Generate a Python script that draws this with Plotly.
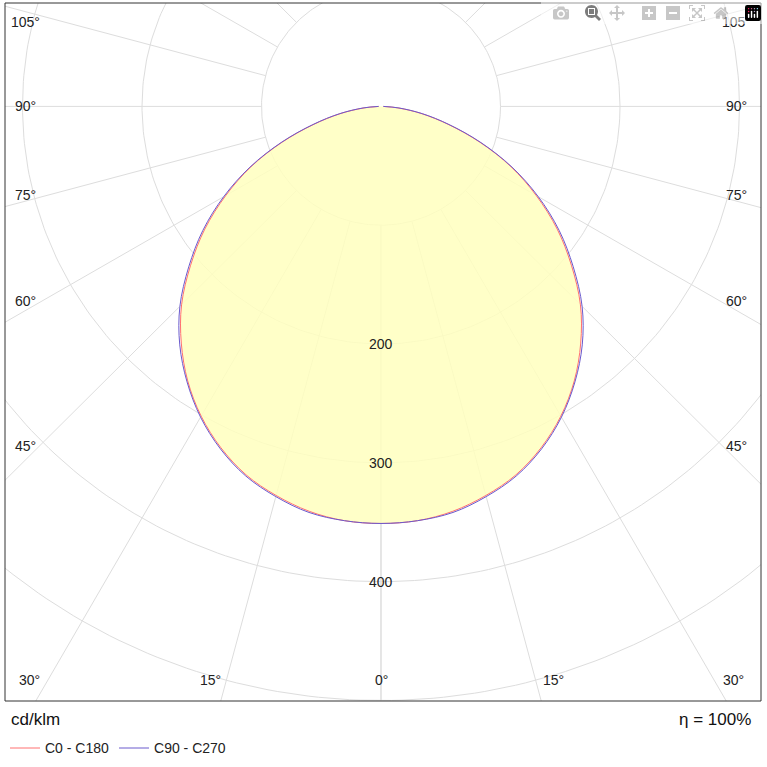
import numpy as np
import plotly.graph_objects as go

# luminous intensity (cd/klm) vs gamma angle (deg, 0 = straight down)
gamma = [0, 5, 10, 15, 20, 25, 30, 35, 40, 45, 50, 55, 60, 65, 70, 75, 80, 85, 90]
c0_c180 = [351, 350, 346, 339, 330, 317, 301, 282, 260, 236, 208, 180, 150, 120, 88, 58, 34, 14, 2]
c90_c270 = [351, 350, 347, 340, 331, 318, 302, 283, 262, 238, 210, 182, 152, 121, 89, 59, 35, 15, 2]

ring_values = [100, 200, 300, 400, 500, 600]
ring_labels = [200, 300, 400]
spoke_angles = list(range(0, 181, 15))

PX = 1.195  # px per cd

def plane_xy(vals):
    g = np.radians(gamma)
    r = np.array(vals, dtype=float)
    x = np.concatenate([-(r * np.sin(g))[::-1], (r * np.sin(g))[1:]])
    y = np.concatenate([-(r * np.cos(g))[::-1], -(r * np.cos(g))[1:]])
    return x, y

fig = go.Figure()
grid = "#dddddd"
t = np.linspace(0, 2 * np.pi, 361)
for rv in ring_values:
    fig.add_trace(go.Scatter(x=rv * np.cos(t), y=rv * np.sin(t), mode="lines",
                             line=dict(color=grid, width=1), hoverinfo="skip", showlegend=False))
for a in spoke_angles:
    ar = np.radians(a)
    for s in (-1, 1):
        fig.add_trace(go.Scatter(x=[s * 100 * np.sin(ar), s * 800 * np.sin(ar)],
                                 y=[-100 * np.cos(ar), -800 * np.cos(ar)], mode="lines",
                                 line=dict(color=grid, width=1), hoverinfo="skip", showlegend=False))

x0, y0 = plane_xy(c0_c180)
x1, y1 = plane_xy(c90_c270)
fig.add_trace(go.Scatter(x=x0, y=y0, fill="toself", fillcolor="rgba(255,255,190,0.85)",
                         line=dict(width=0, shape="spline"), hoverinfo="skip", showlegend=False))
fig.add_trace(go.Scatter(x=x0, y=y0, mode="lines", name="C0 - C180",
                         line=dict(color="#ff7070", width=1, shape="spline")))
fig.add_trace(go.Scatter(x=x1, y=y1, mode="lines", name="C90 - C270",
                         line=dict(color="#6a5acd", width=1, shape="spline")))

for v in ring_labels:
    fig.add_annotation(x=0, y=-v, text=str(v), showarrow=False,
                       font=dict(size=14, color="#222"))

# angle labels near the frame (pixel positions relative to the pole)
side = [(105, -85), (90, 0), (75, 89), (60, 196), (45, 342)]
for ang, dy in side:
    for xp in (-356, 355):
        fig.add_annotation(x=xp / PX, y=-dy / PX, text=f"{ang}°", showarrow=False,
                           font=dict(size=14, color="#222"))
for ang, dx in ((30, -352), (15, -171), (0, 0), (15, 172), (30, 352)):
    fig.add_annotation(x=dx / PX, y=-577 / PX, text=f"{ang}°", showarrow=False,
                       font=dict(size=14, color="#222"))

fig.add_annotation(x=0.005, y=-0.01, xref="paper", yref="paper", text="cd/klm", showarrow=False,
                   xanchor="left", yanchor="top", font=dict(size=17, color="#111"))
fig.add_annotation(x=0.99, y=-0.01, xref="paper", yref="paper", text="η = 100%", showarrow=False,
                   xanchor="right", yanchor="top", font=dict(size=17, color="#111"))

fig.update_xaxes(range=[-376 / PX, 380 / PX], visible=False, showgrid=False, zeroline=False)
fig.update_yaxes(range=[-598 / PX, 104 / PX], visible=False, showgrid=False, zeroline=False)
fig.add_shape(type="rect", xref="paper", yref="paper", x0=0, y0=0, x1=1, y1=1,
              line=dict(color="#333", width=1))
fig.update_layout(width=767, height=767, margin=dict(l=5, r=6, t=3, b=62),
                  plot_bgcolor="white", paper_bgcolor="white",
                  font=dict(family="Liberation Sans, Arial, sans-serif"),
                  legend=dict(orientation="h", x=0, y=-0.045, xanchor="left", yanchor="top",
                              font=dict(size=14, color="#222")))
fig.write_html("out.html", post_script="document.body.style.margin='0';")
